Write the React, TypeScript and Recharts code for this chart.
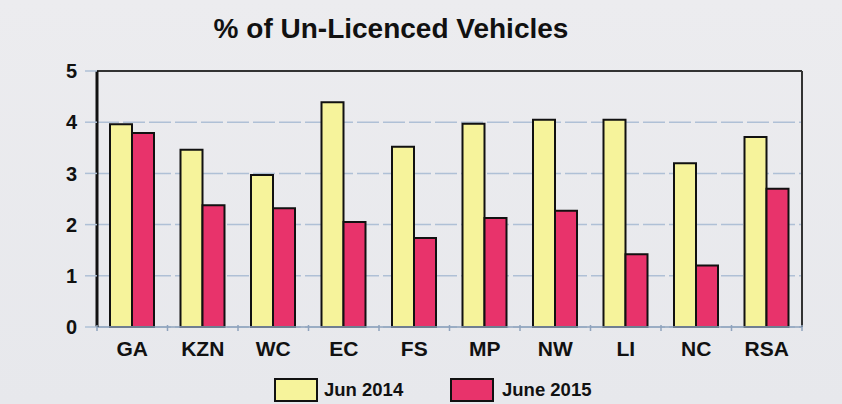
import { Bar, BarChart, CartesianGrid, ReferenceLine, XAxis, YAxis } from 'recharts';

const regions = ['GA', 'KZN', 'WC', 'EC', 'FS', 'MP', 'NW', 'LI', 'NC', 'RSA'];
const jun2014 = [3.96, 3.46, 2.97, 4.39, 3.52, 3.97, 4.05, 4.05, 3.2, 3.71];
const june2015 = [3.79, 2.38, 2.32, 2.05, 1.74, 2.13, 2.27, 1.42, 1.2, 2.7];
const yTicks = [0, 1, 2, 3, 4, 5];

const data = regions.map((region, i) => ({
  region,
  jun2014: jun2014[i],
  june2015: june2015[i],
}));

const FONT = '"Liberation Sans", Arial, sans-serif';
const YELLOW = '#f6f39b';
const PINK = '#e8336b';

function RegionTick(props: any) {
  const { x, y, payload, index } = props;
  const half = payload.offset ?? 0;
  return (
    <g>
      <line x1={x - half} y1={y - 10} x2={x - half} y2={y - 4} stroke="#8fa3bd" strokeWidth={1.5} />
      {index === regions.length - 1 && (
        <line x1={x + half} y1={y - 10} x2={x + half} y2={y - 4} stroke="#8fa3bd" strokeWidth={1.5} />
      )}
      <text
        x={x}
        y={y + 21}
        textAnchor="middle"
        fontFamily={FONT}
        fontWeight="bold"
        fontSize={21}
        fill="#111"
      >
        {payload.value}
      </text>
    </g>
  );
}

function LegendItem({ color, label, left, textLeft }: { color: string; label: string; left: number; textLeft: number }) {
  return (
    <>
      <div
        style={{
          position: 'absolute',
          left,
          top: 378,
          width: 40,
          height: 20,
          background: color,
          border: '2px solid #111',
        }}
      />
      <div
        style={{
          position: 'absolute',
          left: textLeft,
          top: 380,
          fontFamily: FONT,
          fontWeight: 'bold',
          fontSize: 18.5,
          lineHeight: '20px',
          color: '#111',
        }}
      >
        {label}
      </div>
    </>
  );
}

export default function App() {
  return (
    <div
      style={{
        position: 'absolute',
        left: 0,
        top: 0,
        width: 842,
        height: 404,
        background: 'linear-gradient(180deg, #ececef, #e7e8ec)',
        overflow: 'hidden',
      }}
    >
      <div
        style={{
          position: 'absolute',
          left: 0,
          width: 782,
          top: 15,
          textAlign: 'center',
          fontFamily: FONT,
          fontWeight: 'bold',
          fontSize: 28,
          lineHeight: '28px',
          color: '#111',
        }}
      >
        % of Un-Licenced Vehicles
      </div>

      <BarChart
        width={842}
        height={404}
        data={data}
        margin={{ top: 71, right: 39, bottom: 47, left: 0 }}
        barGap={0}
        barSize={22}
        style={{ position: 'absolute', left: 0, top: 0 }}
      >
        <CartesianGrid
          vertical={false}
          stroke="#afc0d6"
          strokeWidth={1.5}
          strokeDasharray="22 4"
          yAxisId="left"
        />
        <XAxis
          dataKey="region"
          height={30}
          interval={0}
          axisLine={{ stroke: '#8fa3bd', strokeWidth: 1.5 }}
          tickLine={false}
          tick={<RegionTick />}
        />
        <YAxis
          yAxisId="left"
          domain={[0, 5]}
          ticks={yTicks}
          width={97}
          axisLine={{ stroke: '#111', strokeWidth: 3 }}
          tickLine={{ stroke: '#afc0d6', strokeWidth: 1.5 }}
          tickSize={12}
          tickMargin={8}
          tick={{ fill: '#111', fontSize: 20, fontWeight: 'bold', fontFamily: FONT }}
        />
        <YAxis
          yAxisId="right"
          orientation="right"
          domain={[0, 5]}
          width={1}
          tick={false}
          tickLine={false}
          axisLine={{ stroke: '#333', strokeWidth: 2 }}
        />
        <ReferenceLine yAxisId="left" y={5} stroke="#333" strokeWidth={2} />
        <Bar
          yAxisId="left"
          dataKey="jun2014"
          fill={YELLOW}
          stroke="#111"
          strokeWidth={2}
          isAnimationActive={false}
        />
        <Bar
          yAxisId="left"
          dataKey="june2015"
          fill={PINK}
          stroke="#111"
          strokeWidth={2}
          isAnimationActive={false}
        />
      </BarChart>

      <LegendItem color={YELLOW} label="Jun 2014" left={274} textLeft={324} />
      <LegendItem color={PINK} label="June 2015" left={450} textLeft={502} />
    </div>
  );
}
